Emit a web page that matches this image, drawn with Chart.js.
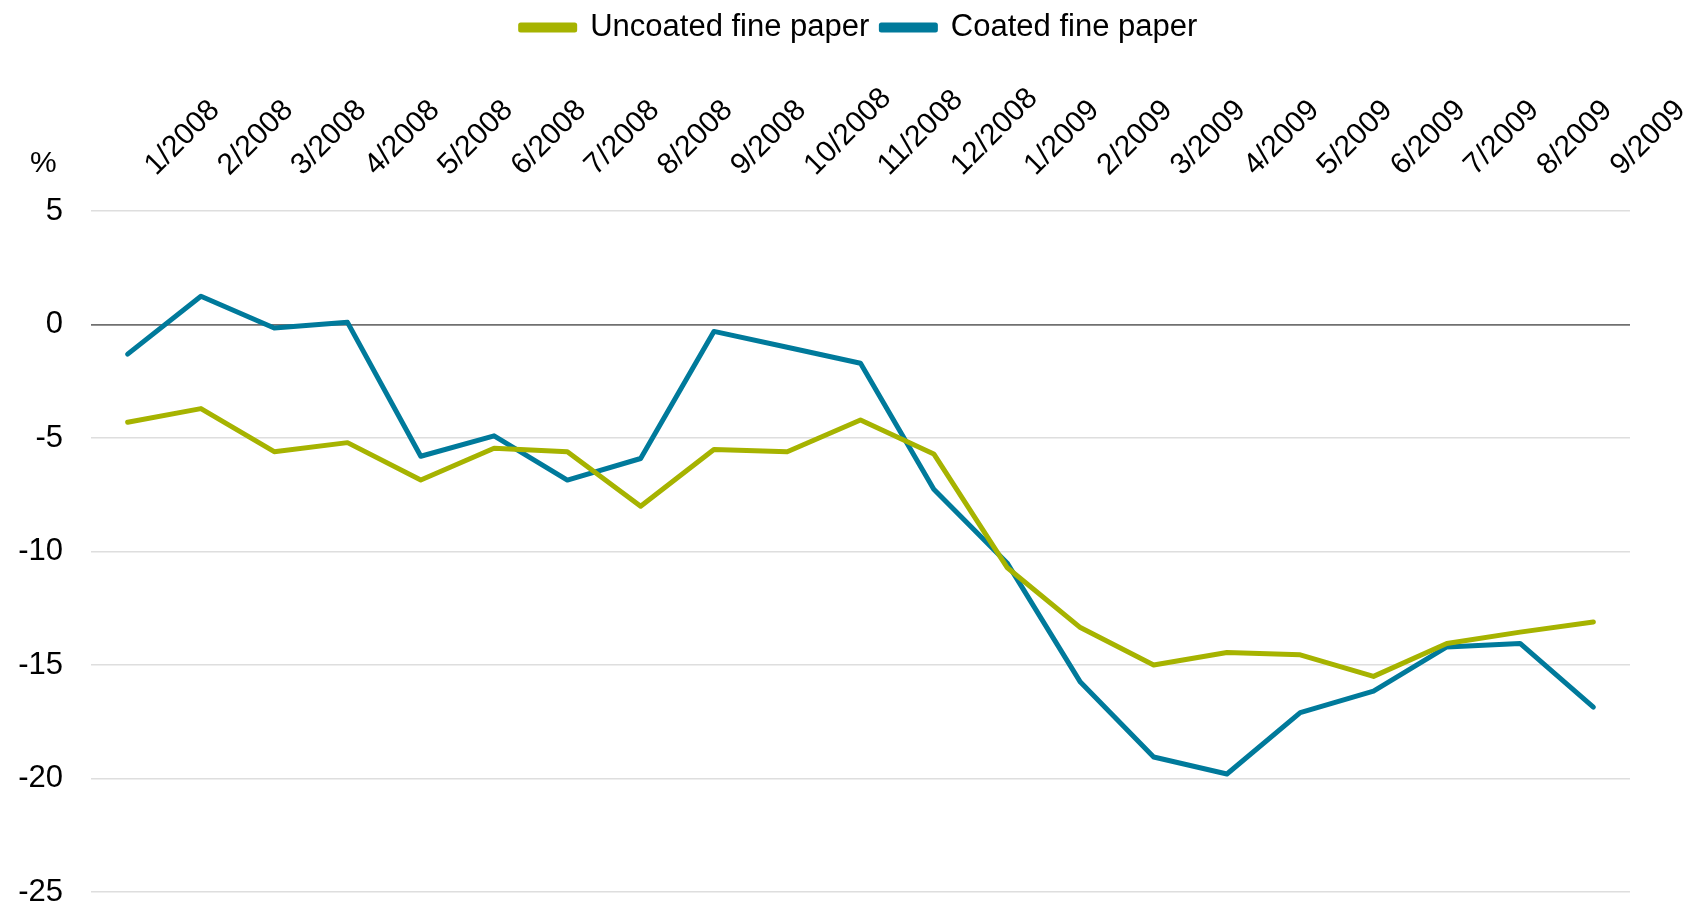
<!DOCTYPE html>
<html>
<head>
<meta charset="utf-8">
<script src="https://cdn.jsdelivr.net/npm/chart.js@4/dist/chart.umd.min.js"></script>
<style>
  html, body { margin: 0; padding: 0; background: #ffffff; }
  #wrap { width: 1702px; height: 909px; position: relative; }
</style>
</head>
<body>
<div id="wrap"><canvas id="chart"></canvas></div>
<script>
// Monthly change, %
const months = ['1/2008','2/2008','3/2008','4/2008','5/2008','6/2008','7/2008','8/2008','9/2008','10/2008','11/2008','12/2008',
                '1/2009','2/2009','3/2009','4/2009','5/2009','6/2009','7/2009','8/2009','9/2009'];
const uncoated = [-4.3, -3.7, -5.6, -5.2, -6.85, -5.45, -5.6, -8.0, -5.5, -5.6, -4.2, -5.7,
                  -10.7, -13.35, -15.0, -14.45, -14.55, -15.5, -14.05, -13.55, -13.1];
const coated = [-1.3, 1.25, -0.15, 0.1, -5.8, -4.9, -6.85, -5.9, -0.3, -1.0, -1.7, -7.25,
                -10.5, -15.75, -19.05, -19.8, -17.1, -16.15, -14.2, -14.05, -16.85];
const seriesNames = ['Uncoated fine paper', 'Coated fine paper'];
const unitLabel = '%';
const yMin = -25, yMax = 5, yStep = 5;

const GREEN = '#A6B300';
const BLUE = '#007A9B';
const FONT = "'Liberation Sans', Arial, sans-serif";

// Unit label above the value axis
const unitTitle = {
  id: 'unitTitle',
  afterDraw(chart) {
    const ctx = chart.ctx;
    ctx.save();
    ctx.font = '30px ' + FONT;
    ctx.fillStyle = '#000000';
    ctx.textAlign = 'left';
    ctx.textBaseline = 'middle';
    ctx.fillText(unitLabel, chart.chartArea.left - 61, chart.chartArea.top - 47);
    ctx.restore();
  }
};

new Chart(document.getElementById('chart'), {
  type: 'line',
  data: {
    labels: months,
    datasets: [
      { label: seriesNames[0], data: uncoated, borderColor: GREEN, backgroundColor: GREEN,
        borderWidth: 5, pointRadius: 0, tension: 0, borderCapStyle: 'round', borderJoinStyle: 'round' },
      { label: seriesNames[1], data: coated, borderColor: BLUE, backgroundColor: BLUE,
        borderWidth: 5, pointRadius: 0, tension: 0, borderCapStyle: 'round', borderJoinStyle: 'round' }
    ]
  },
  options: {
    responsive: true,
    maintainAspectRatio: false,
    devicePixelRatio: 1,
    animation: false,
    layout: { padding: { left: 16, right: 0, top: 0, bottom: 0 } },
    plugins: {
      tooltip: { enabled: false },
      legend: {
        position: 'top',
        align: 'center',
        labels: {
          font: { family: FONT, size: 31 },
          color: '#000000',
          boxWidth: 54,
          boxHeight: 5,
          padding: 12
        }
      }
    },
    scales: {
      x: {
        position: 'top',
        offset: true,
        grid: { display: false, drawTicks: false },
        border: { display: false },
        afterFit: (scale) => { scale.paddingLeft = 0; scale.paddingRight = 72; },
        ticks: {
          font: { family: FONT, size: 30 },
          color: '#000000',
          maxRotation: 45,
          minRotation: 45,
          autoSkip: false,
          padding: 28,
          labelOffset: 48
        }
      },
      y: {
        min: yMin,
        max: yMax,
        border: { display: false },
        afterFit: (scale) => { scale.width = 75; scale.paddingTop = 0; scale.paddingBottom = 17; },
        grid: {
          drawTicks: false,
          color: (c) => (c.tick && c.tick.value === 0 ? '#707070' : '#DEDEDE'),
          lineWidth: (c) => (c.tick && c.tick.value === 0 ? 1.8 : 1.5)
        },
        ticks: {
          stepSize: yStep,
          font: { family: FONT, size: 31 },
          color: '#000000',
          padding: 28
        }
      }
    }
  },
  plugins: [unitTitle]
});
</script>
</body>
</html>
